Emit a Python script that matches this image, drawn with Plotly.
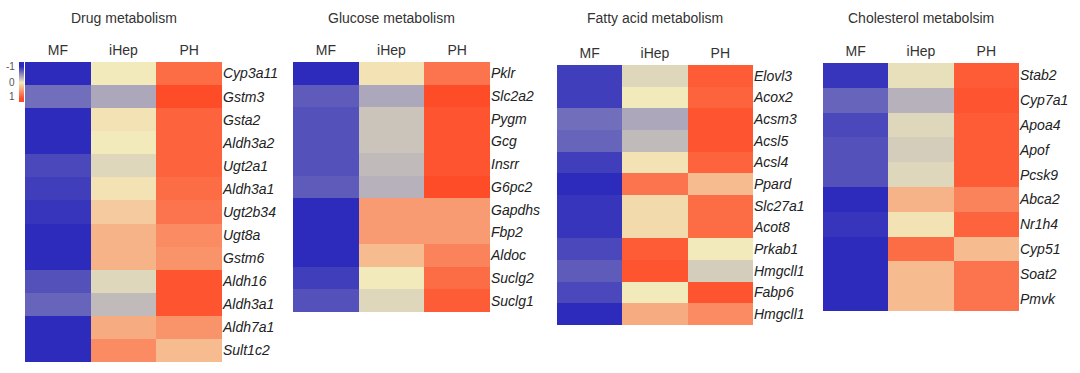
import plotly.graph_objects as go

W, H = 1080, 373

samples = ["MF", "iHep", "PH"]

# ---- Drug metabolism ----
drug_genes = ["Cyp3a11", "Gstm3", "Gsta2", "Aldh3a2", "Ugt2a1", "Aldh3a1", "Ugt2b34",
              "Ugt8a", "Gstm6", "Aldh16", "Aldh3a1", "Aldh7a1", "Sult1c2"]
drug_mf = [-1.0, -0.65, -1.0, -1.0, -0.85, -0.9, -0.95, -1.0, -1.0, -0.8, -0.7, -1.0, -1.0]
drug_ihep = [0.0, -0.35, 0.05, 0.0, -0.1, 0.05, 0.2, 0.35, 0.35, -0.1, -0.25, 0.4, 0.6]
drug_ph = [0.8, 1.0, 0.85, 0.85, 0.85, 0.8, 0.75, 0.6, 0.55, 0.95, 0.95, 0.55, 0.3]

# ---- Glucose metabolism ----
glu_genes = ["Pklr", "Slc2a2", "Pygm", "Gcg", "Insrr", "G6pc2", "Gapdhs", "Fbp2",
             "Aldoc", "Suclg2", "Suclg1"]
glu_mf = [-1.0, -0.75, -0.8, -0.8, -0.8, -0.75, -1.0, -1.0, -1.0, -0.9, -0.8]
glu_ihep = [0.05, -0.35, -0.2, -0.2, -0.25, -0.3, 0.5, 0.5, 0.3, 0.0, -0.1]
glu_ph = [0.75, 1.0, 0.95, 0.95, 0.95, 1.0, 0.5, 0.5, 0.65, 0.8, 0.9]

# ---- Fatty acid metabolism ----
fa_genes = ["Elovl3", "Acox2", "Acsm3", "Acsl5", "Acsl4", "Ppard", "Slc27a1", "Acot8",
            "Prkab1", "Hmgcll1", "Fabp6", "Hmgcll1"]
fa_mf = [-0.9, -0.9, -0.65, -0.7, -0.9, -1.0, -0.95, -0.95, -0.85, -0.75, -0.85, -1.0]
fa_ihep = [-0.1, 0.0, -0.35, -0.25, 0.05, 0.75, 0.1, 0.1, 0.9, 0.95, 0.0, 0.4]
fa_ph = [0.9, 0.85, 0.95, 0.95, 0.85, 0.3, 0.8, 0.8, 0.0, -0.15, 0.95, 0.6]

# ---- Cholesterol metabolism ----
ch_genes = ["Stab2", "Cyp7a1", "Apoa4", "Apof", "Pcsk9", "Abca2", "Nr1h4", "Cyp51",
            "Soat2", "Pmvk"]
ch_mf = [-0.95, -0.7, -0.85, -0.8, -0.8, -1.0, -0.95, -1.0, -1.0, -1.0]
ch_ihep = [-0.05, -0.3, -0.1, -0.15, -0.1, 0.35, 0.05, 0.8, 0.3, 0.3]
ch_ph = [0.9, 0.95, 0.9, 0.9, 0.9, 0.65, 0.85, 0.3, 0.75, 0.75]

titles = ["Drug metabolism", "Glucose metabolism", "Fatty acid metabolism",
          "Cholesterol metabolsim"]

legend_values = [-1.0, -0.5, 0.0, 0.5, 1.0]
legend_ticks = ["-1", "0", "1"]

colorscale = [[0.0, "#2c2bbb"], [0.5, "#f2eabb"], [1.0, "#ff4c28"]]

panels = [
    (drug_genes, drug_mf, drug_ihep, drug_ph, (25, 222, 62, 362)),
    (glu_genes, glu_mf, glu_ihep, glu_ph, (293, 490, 62, 312)),
    (fa_genes, fa_mf, fa_ihep, fa_ph, (557, 753, 65, 325)),
    (ch_genes, ch_mf, ch_ihep, ch_ph, (823, 1019, 63, 311)),
]

FONT = "Liberation Sans, Arial, sans-serif"

fig = go.Figure()
layout = {}
annotations = []

for i, (genes, mf, ih, ph, (x0, x1, y0, y1)) in enumerate(panels):
    n = i + 1
    xa = "x" if n == 1 else f"x{n}"
    ya = "y" if n == 1 else f"y{n}"
    z = [[a, b, c] for a, b, c in zip(mf, ih, ph)]
    fig.add_trace(go.Heatmap(
        z=z, x=[0, 1, 2], y=list(range(len(genes))),
        colorscale=colorscale, zmin=-1, zmax=1, showscale=False,
        xaxis=xa, yaxis=ya, hoverinfo="skip",
    ))
    layout["xaxis" if n == 1 else f"xaxis{n}"] = dict(
        domain=[x0 / W, x1 / W], anchor=ya, side="top",
        tickvals=[0, 1, 2], ticktext=samples, ticks="",
        showgrid=False, zeroline=False, showline=False,
        tickfont=dict(family=FONT, size=14, color="#333"),
        range=[-0.5, 2.5], fixedrange=True, ticklabelstandoff=3,
    )
    layout["yaxis" if n == 1 else f"yaxis{n}"] = dict(
        domain=[1 - y1 / H, 1 - y0 / H], anchor=xa, side="right",
        tickvals=list(range(len(genes))), ticktext=genes, ticks="",
        showgrid=False, zeroline=False, showline=False,
        tickfont=dict(family=FONT, size=14, color="#222", style="italic"),
        range=[len(genes) - 0.5, -0.5], fixedrange=True,
        ticklabelstandoff=0,
    )
    annotations.append(dict(
        text=titles[i], xref="paper", yref="paper",
        x=(x0 + x1) / 2 / W, y=1 - 18 / H, xanchor="center", yanchor="middle",
        showarrow=False, font=dict(family=FONT, size=14, color="#333"),
    ))

# legend gradient bar
fig.add_trace(go.Heatmap(
    z=[[v] for v in legend_values], x=[0], y=list(range(len(legend_values))),
    colorscale=colorscale, zmin=-1, zmax=1, showscale=False, zsmooth="best",
    xaxis="x5", yaxis="y5", hoverinfo="skip",
))
layout["xaxis5"] = dict(domain=[19 / W, 24 / W], anchor="y5", visible=False,
                        range=[-0.5, 0.5], fixedrange=True)
layout["yaxis5"] = dict(domain=[1 - 102 / H, 1 - 62 / H], anchor="x5", visible=False,
                        range=[len(legend_values) - 0.5, -0.5], fixedrange=True)
for lbl, py in zip(legend_ticks, [66, 82, 97]):
    annotations.append(dict(
        text=lbl, xref="paper", yref="paper", x=17 / W, y=1 - py / H,
        xanchor="right", yanchor="middle", showarrow=False,
        font=dict(family=FONT, size=10, color="#555"),
    ))

fig.update_layout(
    width=W, height=H,
    margin=dict(l=0, r=0, t=0, b=0),
    paper_bgcolor="white", plot_bgcolor="white",
    annotations=annotations,
    **layout,
)

fig.write_html("out.html", config={"displayModeBar": False},
               post_script="document.body.style.margin='0px';document.body.style.overflow='hidden';")
